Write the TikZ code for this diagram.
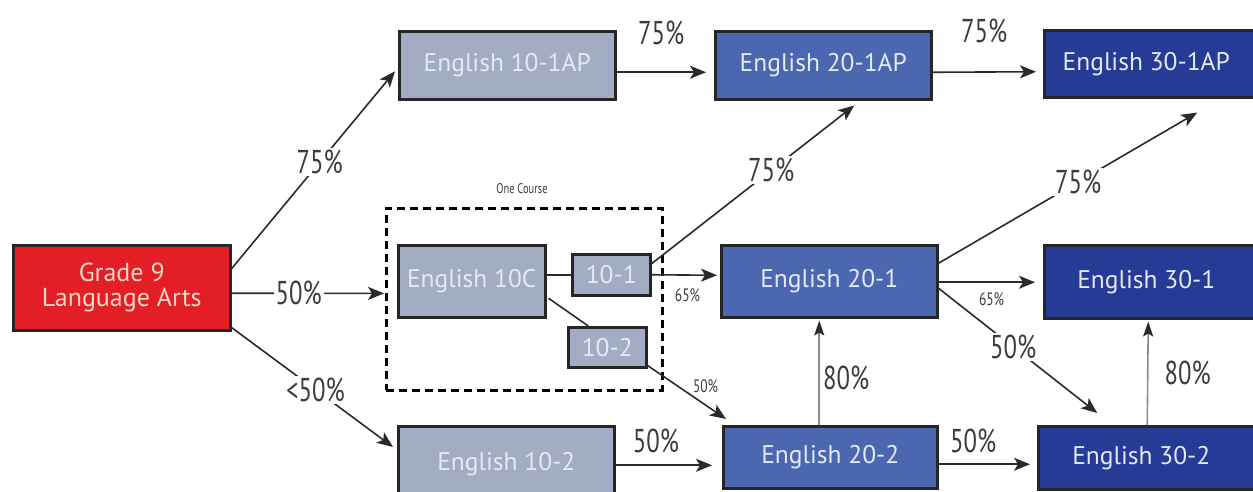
\documentclass[tikz,border=0pt]{standalone}
\usepackage{fontspec}
\setmainfont{PT Sans}
\newfontfamily\condfont[FakeStretch=0.75]{PT Sans}
\usetikzlibrary{arrows.meta,calc}
\definecolor{lightbox}{HTML}{A2ACC3}
\definecolor{midbox}{HTML}{4A67B0}
\definecolor{darkbox}{HTML}{253B96}
\definecolor{redbox}{HTML}{E31E26}
\definecolor{boxtext}{HTML}{E4E9F4}
\definecolor{redtext}{HTML}{F7D6C4}
\definecolor{lbltext}{HTML}{3C3C3C}
\definecolor{linecol}{HTML}{2A2A2A}
\definecolor{greyline}{HTML}{8C8C8C}
\begin{document}
\begin{tikzpicture}[x=1pt,y=-1pt,
  box/.style={draw=black!85,line width=2.5pt,anchor=north west,inner sep=0pt,
    text=boxtext,font=\fontsize{25.5}{26}\selectfont,align=center},
  lightb/.style={box,fill=lightbox},
  midb/.style={box,fill=midbox},
  darkb/.style={box,fill=darkbox},
  arr/.style={draw=linecol,line width=1.6pt,-{Stealth[length=16pt,width=13pt,inset=4pt]}},
  plain/.style={draw=linecol,line width=1.6pt},
  greyarr/.style={draw=greyline,line width=1.6pt,-{Stealth[length=15pt,width=10pt,inset=3pt,color=linecol]}},
  lbl/.style={text=lbltext,font=\condfont\fontsize{33}{36}\selectfont,inner sep=2pt},
  lblw/.style={lbl,fill=white},
  slbl/.style={text=lbltext,font=\condfont\fontsize{18}{20}\selectfont,inner sep=1pt},
]
\fill[white] (0,0) rectangle (1253,491);
\useasboundingbox (0,0) rectangle (1253,491);

% boxes
\node[box,fill=redbox,text=redtext,minimum width=217pt,minimum height=85pt,font=\fontsize{26}{25}\selectfont] (g9) at (12,244) {Grade 9\\Language Arts};
\node[lightb,minimum width=216pt,minimum height=68pt] (a10) at (398,30) {English 10-1AP};
\node[midb,minimum width=216pt,minimum height=68pt] (a20) at (714,30) {English 20-1AP};
\node[darkb,minimum width=222pt,minimum height=67pt] (a30) at (1043,29) {\hspace*{-18pt}English 30-1AP};

\node[draw=black,line width=2.8pt,dash pattern=on 8pt off 5pt,anchor=north west,minimum width=276pt,minimum height=182pt,inner sep=0pt] (oc) at (385,207) {};
\node[text=lbltext,font=\condfont\fontsize{14}{16}\selectfont] (oclbl) at (522,189) {One Course};

\node[lightb,minimum width=147pt,minimum height=72pt] (c10) at (397,244) {English 10C};
\node[lightb,minimum width=78pt,minimum height=41pt] (s1) at (571,253) {10-1};
\node[lightb,minimum width=78pt,minimum height=40pt] (s2) at (567,326) {10-2};

\node[midb,minimum width=216pt,minimum height=72pt] (e20) at (720,244) {English 20-1};
\node[darkb,minimum width=222pt,minimum height=73pt] (e30) at (1043,244) {\hspace*{-18pt}English 30-1};

\node[lightb,minimum width=216pt,minimum height=75pt] (b10) at (397,425) {English 10-2};
\node[midb,minimum width=214pt,minimum height=62pt] (b20) at (722,425) {English 20-2};
\node[darkb,minimum width=228pt,minimum height=63pt] (b30) at (1037,425) {\hspace*{-22pt}English 30-2};

% connectors from Grade 9
\draw[arr] ($(g9.east)+(0,-19)$) -- node[lblw,pos=.54] {75\%} ($(a10.west)+(-3,6)$);
\draw[arr] ($(g9.east)+(0,5.5)$) -- node[lblw,pos=.44] {50\%} ($(oc.west)+(-1,-6)$);
\draw[arr] ($(g9.south east)+(0,-4)$) -- node[lblw,pos=.52] {<50\%} ($(b10.north west)+(-4,22)$);

% top row
\draw[arr] ($(a10.east)+(0,7)$) -- node[lbl,pos=.5,yshift=39pt] {75\%} ($(a20.west)+(-8,7)$);
\draw[arr] ($(a20.east)+(0,7)$) -- node[lbl,pos=.5,yshift=41pt] {75\%} ($(a30.west)+(-7,8)$);

% one course internals
\draw[plain] (c10.east |- s1.west) -- (s1.west);
\draw[plain] ($(c10.east)+(2,17)$) -- ($(s2.north)+(-19,0)$);

% from 10-1
\draw[arr] ($(s1.east)+(0,-11)$) -- node[lblw,pos=.59] {75\%} ($(a20.south)+(31,5)$);
\draw[arr] (s1.east) -- node[slbl,pos=.55,yshift=-20pt] {65\%} ($(e20.west)+(-3,-6)$);
% from 10-2
\draw[arr] ($(s2.south east)+(0,-3)$) -- node[slbl,pos=.74,yshift=19pt] {50\%} ($(b20.north west)+(4,-6)$);

% from 20-1
\draw[arr] ($(e20.east)+(0,-18)$) -- node[lblw,pos=.54] {75\%} ($(a30.south)+(42,14)$);
\draw[arr] ($(e20.east)+(0,1)$) -- node[slbl,pos=.55,yshift=-17pt] {65\%} ($(e30.west)+(-8,0.5)$);
\draw[arr] ($(e20.east)+(0,7)$) -- node[lblw,pos=.47] {50\%} ($(b30.north)+(-55,-12)$);

% up arrows
\draw[greyarr] ($(b20.north)+(-11,0)$) -- node[lbl,pos=.45,right=1pt] {80\%} ($(e20.south)+(-10,2)$);
\draw[greyarr] ($(b30.north)+(-5,0)$) -- node[lbl,pos=.5,right=14pt] {80\%} ($(e30.south)+(-7,2)$);

% bottom row
\draw[arr] ($(b10.east)+(0,1.5)$) -- node[lbl,pos=.42,yshift=24pt] {50\%} ($(b20.west)+(-10,8)$);
\draw[arr] ($(b20.east)+(0,7)$) -- node[lbl,pos=.38,yshift=23pt] {50\%} ($(b30.west)+(-7,6.5)$);
\end{tikzpicture}
\end{document}
